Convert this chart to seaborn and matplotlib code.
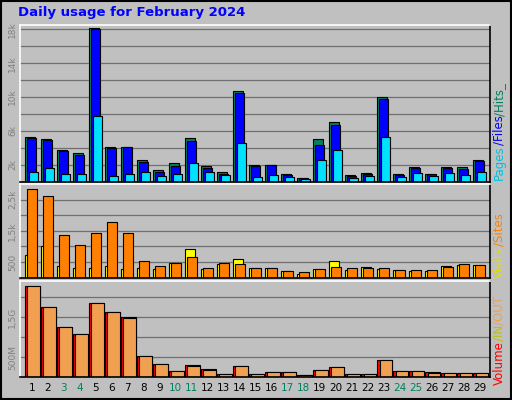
import numpy as np
import matplotlib
matplotlib.use('Agg')
import matplotlib.pyplot as plt
import seaborn as sns

days = np.arange(1, 30)
weekend = [3, 4, 10, 11, 17, 18, 24, 25]

hits = [5320, 5080, 3780, 3430, 18130, 4130, 4130, 2590, 1400, 2240, 5200, 1880, 1170, 10770, 2000,
        2000, 930, 460, 5080, 7100, 810, 1050, 9980, 930, 1760, 930, 1760, 1760, 2590]
files = [5200, 4960, 3660, 3180, 18010, 3940, 4050, 2360, 1170, 1800, 4850, 1640, 930, 10530, 1800,
         2000, 810, 460, 4370, 6740, 700, 930, 9830, 810, 1640, 930, 1640, 1530, 2470]
pages = [1170, 1640, 930, 930, 7810, 700, 930, 1170, 700, 930, 2240, 1170, 810, 4610, 580,
         810, 580, 340, 2590, 3780, 460, 700, 5320, 580, 1050, 700, 1050, 810, 1170]
visits = [716, 1015, 363, 300, 300, 363, 267, 300, 267, 460, 908, 267, 427, 588, 300,
          300, 203, 107, 267, 523, 235, 331, 267, 235, 203, 203, 363, 395, 395]
sites = [2830, 2620, 1357, 1036, 1420, 1774, 1420, 523, 363, 460, 652, 300, 460, 427, 300,
         300, 203, 171, 267, 331, 300, 300, 300, 235, 235, 235, 331, 427, 395]
volume = [2.275, 1.75, 1.25, 1.075, 1.85, 1.625, 1.5, 0.525, 0.325, 0.15, 0.30, 0.2, 0.075, 0.275, 0.075,
          0.125, 0.125, 0.05, 0.175, 0.25, 0.075, 0.075, 0.425, 0.15, 0.15, 0.125, 0.1, 0.1, 0.1]
vol_out = [2.275, 1.75, 1.25, 1.075, 1.85, 1.625, 1.475, 0.525, 0.325, 0.15, 0.275, 0.175, 0.075, 0.275, 0.075,
           0.125, 0.125, 0.05, 0.175, 0.25, 0.075, 0.075, 0.425, 0.15, 0.15, 0.1, 0.1, 0.1, 0.1]

BG = '#c0c0c0'
sns.set_style('white')
plt.rcParams['font.family'] = ['DejaVu Sans']

fig = plt.figure(figsize=(5.12, 4.0), dpi=100, facecolor=BG)
ax1 = fig.add_axes([0.039, 0.546, 0.919, 0.392])
ax2 = fig.add_axes([0.039, 0.306, 0.919, 0.234])
ax3 = fig.add_axes([0.039, 0.057, 0.919, 0.2415])


def draw(ax, series):
    for vals, off, w, col in series:
        sns.barplot(x=days + off, y=vals, native_scale=True, width=w, color=col,
                    edgecolor='black', linewidth=0.8, saturation=1, ax=ax)


draw(ax1, [(hits, -0.1, 0.6, '#008060'), (files, -0.03, 0.56, '#0000ff'), (pages, 0.11, 0.52, '#00e0ff')])
draw(ax2, [(visits, -0.1, 0.6, '#ffff00'), (sites, 0.03, 0.65, '#ff8000')])
draw(ax3, [(volume, 0.05, 0.9, '#ff0000'), (vol_out, 0.12, 0.77, '#f0a050')])

setup = [
    (ax1, 18550, np.arange(2000, 18001, 2000), {2000: '2k', 6000: '6k', 10000: '10k', 14000: '14k', 18000: '18k'}),
    (ax2, 3000, np.arange(500, 3000, 500), {500: '500', 1500: '1,5k', 2500: '2,5k'}),
    (ax3, 2.42, np.arange(0.5, 2.5, 0.5), {0.5: '500M', 1.5: '1,5G'}),
]
for ax, top, grid, labels in setup:
    ax.set_facecolor(BG)
    ax.set_xlim(0.27, 29.67)
    ax.set_ylim(0, top)
    ax.set_xlabel('')
    ax.set_ylabel('')
    for g in grid:
        ax.axhline(g, color='#707070', lw=0.9, zorder=0)
    ax.set_axisbelow(True)
    ax.set_yticks(list(labels.keys()))
    ax.set_yticklabels(list(labels.values()), rotation=90, va='center', fontsize=6.5, color='#808080')
    ax.tick_params(axis='y', length=0, pad=2)
    for s in ax.spines.values():
        s.set_color('white')
        s.set_linewidth(1.2)
    ax.spines['bottom'].set_color('black')
    ax.spines['right'].set_color('black')

for ax in (ax1, ax2):
    ax.set_xticks([])
ax3.set_xticks(days)
ax3.set_xticklabels([str(d) for d in days], fontsize=7.5)
ax3.tick_params(axis='x', length=0, pad=4)
for lab, d in zip(ax3.get_xticklabels(), days):
    lab.set_color('#008060' if d in weekend else 'black')

fig.text(0.035, 0.985, 'Daily usage for February 2024', color='#0000ff', fontsize=9.5,
         fontweight='bold', va='top', ha='left')

# right side legends, written bottom-up
def side(parts, y0):
    y = y0
    r = fig.canvas.get_renderer()
    for txt, col in parts:
        t = fig.text(0.975, y, txt, color=col, rotation=90, fontsize=8.5, ha='center', va='bottom')
        bb = t.get_window_extent(renderer=r)
        y += bb.height / fig.bbox.height

side([('Pages', '#00c0e0'), ('/Files', '#0000ff'), ('/Hits_', '#008060')], 1 - 180 / 400)
side([('Visits', '#e0e000'), ('/Sites', '#ff8000')], 1 - 278 / 400)
side([('Volume', '#ff0000'), ('/IN', '#c0c000'), ('/OUT', '#f0a050')], 1 - 385 / 400)

fig.patches.append(plt.Rectangle((0.002, 0.002), 0.996, 0.996, transform=fig.transFigure,
                                 fill=False, edgecolor='black', lw=1.5))
fig.savefig('out.png', dpi=100, facecolor=BG)
